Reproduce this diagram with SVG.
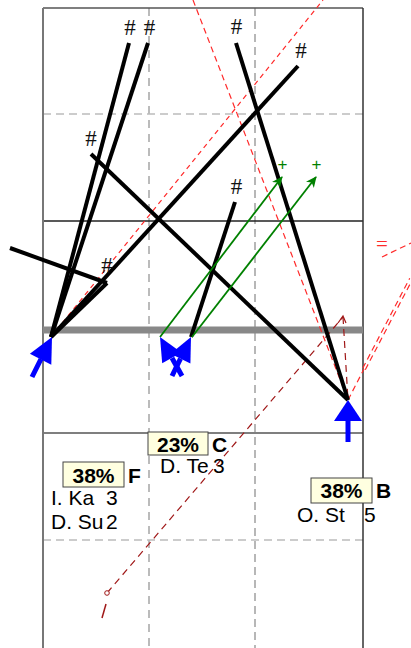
<svg xmlns="http://www.w3.org/2000/svg" width="411" height="648" viewBox="0 0 411 648">
<style>
.mv{stroke:#000;stroke-width:4;fill:none}
.gr{stroke:#008000;stroke-width:1.8;fill:none}
.rd{stroke:#ff2a2a;stroke-width:1.2;fill:none;stroke-dasharray:6 4}
.dr{stroke:#a01818;stroke-width:1.2;fill:none;stroke-dasharray:7 5}
.hash{font-family:"Liberation Serif","DejaVu Serif",serif;font-size:23px;fill:#111;text-anchor:middle}
.plus{font-family:"Liberation Sans",Arial,sans-serif;font-size:17px;fill:#008000;text-anchor:middle}
.pct{font-family:"Liberation Sans",Arial,sans-serif;font-size:21px;font-weight:bold;fill:#000;text-anchor:middle}
.let{font-family:"Liberation Sans",Arial,sans-serif;font-size:21px;font-weight:bold;fill:#000}
.nm{font-family:"Liberation Sans",Arial,sans-serif;font-size:21px;fill:#000}
.box{fill:#ffffe0;stroke:#444;stroke-width:1}
.blue{fill:#0000ff;stroke:none}
.bshaft{stroke:#0000ff;stroke-width:5;fill:none}
</style>
<defs>
<marker id="ga" markerUnits="userSpaceOnUse" markerWidth="12" markerHeight="10" refX="10" refY="5" orient="auto">
<path d="M0,0 L11,5 L0,10 L3,5 z" fill="#008000"/>
</marker>
</defs>
<rect width="411" height="648" fill="#fff"/>
<g id="grid">
<line x1="43" y1="114" x2="363" y2="114" stroke="#999" stroke-width="1.2" stroke-dasharray="8 5"/>
<line x1="43" y1="540" x2="363" y2="540" stroke="#999" stroke-width="1.2" stroke-dasharray="8 5"/>
<line x1="149" y1="8" x2="149" y2="648" stroke="#bbb" stroke-width="2" stroke-dasharray="8 6"/>
<line x1="255" y1="8" x2="255" y2="648" stroke="#888" stroke-width="1.2" stroke-dasharray="8 5"/>
<line x1="43" y1="221" x2="363" y2="221" stroke="#222" stroke-width="1.3"/>
<line x1="43" y1="433" x2="363" y2="433" stroke="#555" stroke-width="1.5"/>
<line x1="43" y1="8" x2="363" y2="8" stroke="#555" stroke-width="1.5"/>
<line x1="43" y1="8" x2="43" y2="648" stroke="#777" stroke-width="2"/>
<line x1="363" y1="8" x2="363" y2="648" stroke="#333" stroke-width="1.5"/>
<rect x="43" y="326.5" width="320" height="7" fill="#888"/>
</g>
<g id="connectors">
<path class="rd" d="M193 0 L348 400"/>
<path class="rd" d="M51 337 L323 0" style="stroke-dasharray:5 4"/>
<path class="rd" d="M348 400 L364 369"/>
<path class="rd" d="M362.7 368.3 L409.7 278.3"/>
<path class="rd" d="M365.3 369.7 L412.3 279.7"/>
<path class="rd" d="M382 257 L411 243"/>
<path class="dr" d="M107 593 L343 317"/>
<path class="dr" d="M343 317 L348 400"/>
<path d="M338 323 L343 316 L346 323" fill="none" stroke="#a01818" stroke-width="1.2"/>
<path d="M102 618 L106 604" fill="none" stroke="#a01818" stroke-width="1.5"/>
<circle cx="107" cy="593" r="2.3" fill="#fff" stroke="#a01818" stroke-width="1"/>
<path class="mv" d="M51 337 L129 43"/>
<path class="mv" d="M51 337 L148 43"/>
<path class="mv" d="M51 337 L298 66"/>
<path class="mv" d="M51 337 L107 283"/>
<path class="mv" d="M10 248 L107 283"/>
<path class="mv" d="M91 154 L348 400"/>
<path class="mv" d="M236 43 L348 400"/>
<path class="mv" d="M191 337 L235 202"/>
<path class="gr" d="M160 337 L282 177" marker-end="url(#ga)"/>
<path class="gr" d="M192 337 L316 177" marker-end="url(#ga)"/>
</g>
<g id="marks">
<text class="hash" x="130" y="35">#</text>
<text class="hash" x="149.5" y="35">#</text>
<text class="hash" x="91" y="146">#</text>
<text class="hash" x="301" y="58">#</text>
<text class="hash" x="236.5" y="34">#</text>
<text class="hash" x="236.5" y="194">#</text>
<text class="hash" x="107" y="273">#</text>
<text class="plus" x="282.5" y="170">+</text>
<text class="plus" x="316.5" y="170">+</text>
<text x="382" y="251" font-family="Liberation Serif,serif" font-size="21" fill="#ff2a2a" text-anchor="middle">=</text>
</g>
<g id="player-F">
<path class="bshaft" d="M32 377 L41 359"/>
<path class="blue" d="M52 337 L51.3 364.7 L29.9 353.8 z"/>
<rect class="box" x="63" y="462" width="61" height="25"/>
<text class="pct" x="93.5" y="483">38%</text>
<text class="let" x="128" y="483">F</text>
<text class="nm" x="51" y="505">I. Ka</text>
<text class="nm" x="106" y="505">3</text>
<text class="nm" x="51" y="529">D. Su</text>
<text class="nm" x="106" y="529">2</text>
</g>
<g id="player-C">
<path class="bshaft" d="M182 376 L172 358"/>
<path class="bshaft" d="M172 376 L180.5 358.6"/>
<path class="blue" d="M160 337 L181.4 352.5 L162.2 363.3 z"/>
<path class="blue" d="M191 337 L190.4 363.4 L170.6 353.8 z"/>
<rect class="box" x="148" y="432" width="60" height="23"/>
<text class="pct" x="178" y="452">23%</text>
<text class="let" x="212" y="452">C</text>
<text class="nm" x="160" y="473">D. Te</text>
<text class="nm" x="213" y="473">3</text>
</g>
<g id="player-B">
<path class="bshaft" d="M348 442 L348 420"/>
<path class="blue" d="M348 400 L362 421 L334 421 z"/>
<rect class="box" x="311" y="478" width="61" height="25"/>
<text class="pct" x="341.5" y="498">38%</text>
<text class="let" x="376" y="498">B</text>
<text class="nm" x="297" y="522">O. St</text>
<text class="nm" x="364" y="522">5</text>
</g>
</svg>
